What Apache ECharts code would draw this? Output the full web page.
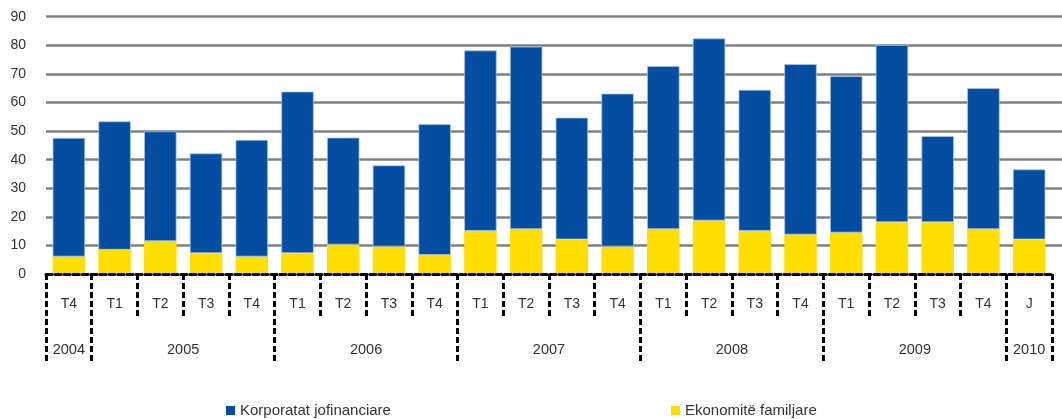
<!DOCTYPE html>
<html>
<head>
<meta charset="utf-8">
<script src="https://cdn.jsdelivr.net/npm/echarts@6/dist/echarts.min.js"></script>
<style>
html,body{margin:0;padding:0;background:#fff;}
#chart{width:1062px;height:419px;}
</style>
</head>
<body>
<div id="chart"></div>
<script>
var quarters = ['T4','T1','T2','T3','T4','T1','T2','T3','T4','T1','T2','T3','T4','T1','T2','T3','T4','T1','T2','T3','T4','J'];
var years = ['2004','2005','2006','2007','2008','2009','2010'];
var yearCounts = [1,4,4,4,4,4,1];
var households = [6.1,8.5,11.5,7.3,6.1,7.3,10.3,9.6,6.7,15.1,15.7,12.1,9.6,15.7,18.7,15.1,13.8,14.5,18.1,18.1,15.7,12.1];
var corporates = [41.5,44.9,38.4,34.9,40.8,56.5,37.4,28.4,45.7,63.1,63.8,42.6,53.5,57.0,63.7,49.3,59.6,54.7,62.0,30.1,49.3,24.5];
var yTicks = {min:0, max:90, interval:10};

// Build half-slot year axis (45 points on boundaries and mid-points of bars)
var halfData = [];
for (var i = 0; i <= quarters.length * 2; i++) halfData.push('');
var boundarySet = {0:true};
var pos = 0;
for (var k = 0; k < years.length; k++) {
  halfData[pos * 2 + yearCounts[k]] = years[k];
  pos += yearCounts[k];
  boundarySet[pos * 2] = true;
}

var font = 'Liberation Sans, Arial, sans-serif';
var txt = '#333333';
var dash = {color:'#000', width:3, type:[6,3]};
var gridColors = ['rgba(0,0,0,0)'];
for (var g = 1; g < 10; g++) gridColors.push('#808080');

var chart = echarts.init(document.getElementById('chart'));
chart.setOption({
  animation:false,
  textStyle:{fontFamily:font},
  grid:[
    {left:46, right:10, top:16.7, bottom:145, containLabel:false},
    {left:46, right:0, top:16.7, bottom:145, containLabel:false}
  ],
  legend:[
    {data:['Korporatat jofinanciare'], left:221, top:398, itemWidth:9, itemHeight:9, itemGap:5, icon:'rect',
     itemStyle:{borderWidth:0},
     textStyle:{fontSize:15, color:txt, fontFamily:font}},
    {data:['Ekonomitë familjare'], left:666, top:398, itemWidth:9, itemHeight:9, itemGap:5, icon:'rect',
     itemStyle:{borderWidth:0},
     textStyle:{fontSize:15, color:txt, fontFamily:font}}
  ],
  xAxis:[
    {type:'category', gridIndex:0, data:quarters, position:'bottom',
     axisLine:{show:true, lineStyle:dash},
     axisTick:{show:true, interval:0, length:43, lineStyle:dash},
     axisLabel:{interval:0, margin:23, fontSize:14, color:txt, fontFamily:font},
     z:5},
    {type:'category', gridIndex:0, data:halfData, boundaryGap:false, position:'bottom',
     axisLine:{show:false},
     axisTick:{show:true, length:88, lineStyle:dash, interval:function(idx){return !!boundarySet[idx];}},
     axisLabel:{interval:0, margin:68, fontSize:14.5, color:txt, fontFamily:font},
     z:5},
    {type:'value', gridIndex:1, min:0, max:1, show:false}
  ],
  yAxis:[
    {type:'value', gridIndex:0, min:yTicks.min, max:yTicks.max, interval:yTicks.interval,
     axisLine:{show:false}, axisTick:{show:false}, splitLine:{show:false},
     axisLabel:{margin:20, fontSize:14, color:txt, fontFamily:font}},
    {type:'value', gridIndex:1, min:yTicks.min, max:yTicks.max, interval:yTicks.interval,
     axisLine:{show:false}, axisTick:{show:false}, axisLabel:{show:false},
     splitLine:{show:true, lineStyle:{color:gridColors, width:2.5}}}
  ],
  series:[
    {name:'Ekonomitë familjare', type:'bar', stack:'t', xAxisIndex:0, yAxisIndex:0,
     data:households, barCategoryGap:'29%', itemStyle:{color:'#FFDE00'}, z:3},
    {name:'Korporatat jofinanciare', type:'bar', stack:'t', xAxisIndex:0, yAxisIndex:0,
     data:corporates, barCategoryGap:'29%', itemStyle:{color:'#034EA2', borderColor:'rgba(170,195,230,0.9)', borderWidth:0.8}, z:3}
  ]
});
</script>
</body>
</html>
